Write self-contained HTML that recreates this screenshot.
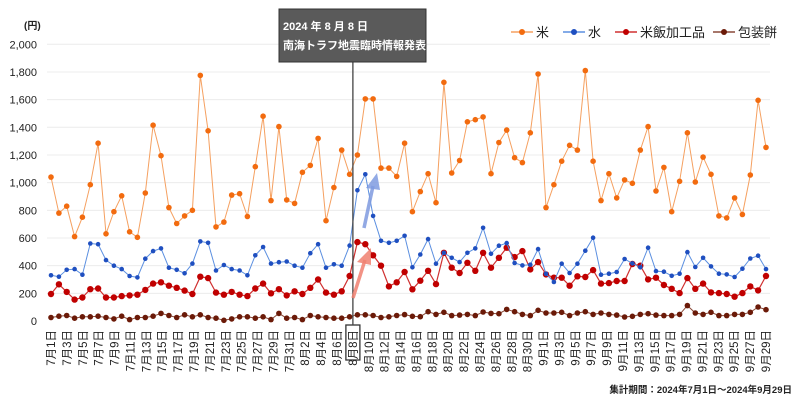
<!DOCTYPE html>
<html><head><meta charset="utf-8"><style>
html,body{margin:0;padding:0;background:#fff;}
svg{display:block;font-family:"Liberation Sans","Noto Sans CJK JP",sans-serif;}
</style></head><body>
<svg id="c" width="800" height="404" viewBox="0 0 800 404" xmlns="http://www.w3.org/2000/svg"></svg>
<script>
const rice=[1040,780,830,610,750,985,1285,630,790,905,645,605,925,1415,1195,820,705,760,800,1775,1375,680,715,910,920,755,1115,1480,870,1405,875,850,1075,1125,1320,725,965,1235,1060,1200,1605,1605,1105,1105,1045,
1285,790,935,1065,855,1725,1070,1160,1440,1455,1475,1065,1290,1380,1180,1145,1360,1785,820,985,1155,1270,1235,1810,1155,870,1065,890,1020,995,1235,1405,940,1110,790,1010,1360,1005,1185,1060,760,745,890,770,1055,1595,1255];
const water=[330,320,370,375,335,560,555,440,400,375,325,315,450,505,525,385,370,345,415,575,565,365,405,375,365,330,475,535,415,425,430,400,385,490,555,385,410,400,545,945,1060,760,580,565,580,
616,388,481,592,414,493,457,426,493,525,674,486,544,563,419,402,407,520,341,282,414,347,414,508,602,335,342,354,448,416,388,530,361,356,327,342,498,390,457,395,342,337,318,378,452,472,375];
const red=[195,265,210,155,170,230,235,170,170,180,185,190,225,270,280,255,240,220,195,320,310,205,190,210,190,180,235,270,200,230,185,215,195,240,300,205,190,215,325,570,555,475,400,250,280,
354,229,291,363,267,493,385,347,421,363,493,385,457,530,462,505,373,426,337,313,313,255,323,318,368,270,274,289,289,412,400,301,313,260,233,202,310,233,270,207,202,195,176,202,250,221,325];
const mochi=[25,35,40,20,30,30,35,25,15,35,10,25,25,35,55,40,25,45,30,45,25,20,5,15,30,30,20,30,10,55,20,25,10,40,30,25,20,20,30,45,45,40,25,30,40,
46,34,31,67,48,63,39,43,48,39,65,55,53,84,67,48,39,77,58,58,63,39,58,67,48,58,48,43,29,34,48,53,43,39,39,48,111,58,48,63,39,39,48,48,63,101,82];
const X0=51,X1=766,Y0=321,Y2000=44.3;
const n=rice.length, dx=(X1-X0)/(n-1);
const X=i=>X0+i*dx, Y=v=>Y0-(v/2000)*(Y0-Y2000);
let s='';
for(let v=0;v<=2000;v+=200){const y=Y(v);
 if(v>0) s+=`<line x1="47" x2="770" y1="${y}" y2="${y}" stroke="#ececec" stroke-width="1"/>`;
 s+=`<text x="37" y="${y+4}" font-size="11" text-anchor="end" fill="#222">${v.toLocaleString('en-US')}</text>`;}
s+=`<text x="24" y="29" font-size="10" fill="#222" font-weight="bold">(円)</text>`;
function series(d,lc,mc,r,w){let p=d.map((v,i)=>`${X(i).toFixed(1)},${Y(v).toFixed(1)}`).join(' ');
 s+=`<polyline points="${p}" fill="none" stroke="${lc}" stroke-width="${w}"/>`;
 d.forEach((v,i)=>{s+=`<circle cx="${X(i).toFixed(1)}" cy="${Y(v).toFixed(1)}" r="${r}" fill="${mc}"/>`;});}
series(mochi,'#8a4a3a','#6b1a08',2.8,1);
series(red,'#d03030','#c00000',3.2,1.2);
series(water,'#5b8fe0','#1f4fc0',2.3,1);
series(rice,'#f5a060','#f26b0f',2.8,1);
// labels
const months=[];for(let d=1;d<=31;d+=2)months.push('7月'+d+'日');for(let d=2;d<=30;d+=2)months.push('8月'+d+'日');for(let d=1;d<=29;d+=2)months.push('9月'+d+'日');
months.forEach((t,k)=>{const x=X0+k*(X1-X0)/45;
 s+=`<text transform="translate(${x+4},330) rotate(-90)" font-size="11.5" text-anchor="end" fill="#222">${t}</text>`;});
// 8/8 box and line
const x88=X0+19*(X1-X0)/45;
s+=`<rect x="${x88-7}" y="325" width="14" height="35" fill="none" stroke="#333" stroke-width="1.3"/>`;
s+=`<line x1="${x88}" x2="${x88}" y1="62" y2="325" stroke="#444" stroke-width="1.3"/>`;
s+=`<rect x="279" y="9" width="147" height="53" fill="#5a5a5a" stroke="#333" stroke-width="1"/>`;
s+=`<text x="283" y="30" font-size="11" font-weight="bold" fill="#fff">2024 年 8 月 8 日</text>`;
s+=`<text x="283" y="49" font-size="11" font-weight="bold" fill="#fff">南海トラフ地震臨時情報発表</text>`;
// arrows
s+=`<line x1="364" y1="228" x2="373" y2="186" stroke="#7f9be0" stroke-width="3.5" opacity="0.85"/><polygon points="366,188 380,190 377,173" fill="#7f9be0" opacity="0.85"/>`;
s+=`<line x1="353" y1="298" x2="365" y2="260" stroke="#f08070" stroke-width="3.5" opacity="0.85"/><polygon points="357,262 371,265 371,248" fill="#f08070" opacity="0.85"/>`;
// legend
function leg(x,lc,mc,t){s+=`<line x1="${x}" x2="${x+22}" y1="32" y2="32" stroke="${lc}" stroke-width="1.5"/><circle cx="${x+11}" cy="32" r="3" fill="${mc}"/><text x="${x+25}" y="37" font-size="13" fill="#222">${t}</text>`;}
leg(511,'#f5a060','#f26b0f','米');leg(563,'#5b8fe0','#1f4fc0','水');leg(615,'#d03030','#c00000','米飯加工品');leg(713,'#8a4a3a','#6b1a08','包装餅');
s+=`<text x="792" y="393" font-size="9.5" font-weight="bold" text-anchor="end" fill="#222">集計期間：2024年7月1日～2024年9月29日</text>`;
document.getElementById('c').innerHTML=s;
</script>
</body></html>
